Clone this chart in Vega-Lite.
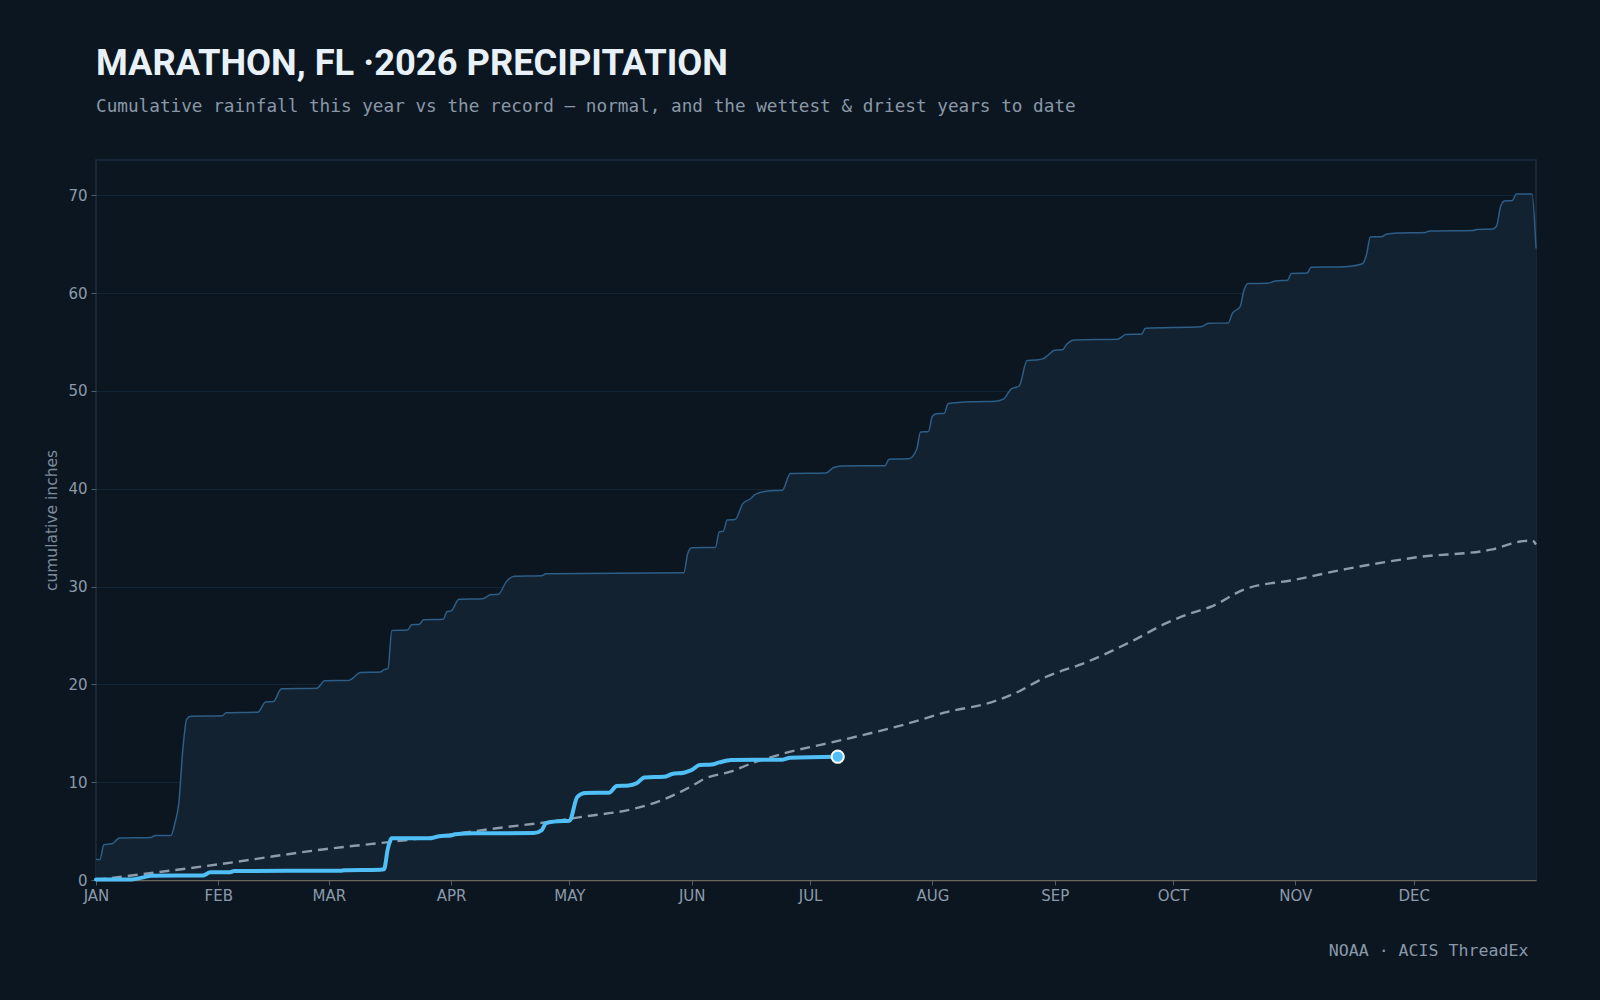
{
  "$schema": "https://vega.github.io/schema/vega-lite/v6.json",
  "width": 1440,
  "height": 720,
  "autosize": {"type": "none"},
  "padding": {"left": 96, "top": 160, "right": 64, "bottom": 120},
  "background": "#0c1620",
  "title": {
    "text": "MARATHON, FL ·2026 PRECIPITATION",
    "subtitle": "Cumulative rainfall this year vs the record — normal, and the wettest & driest years to date",
    "anchor": "start",
    "frame": "group",
    "font": "Roboto",
    "fontSize": 36.3,
    "fontWeight": 700,
    "color": "#e8f1f8",
    "subtitleFont": "DejaVu Sans Mono",
    "subtitleFontSize": 17.7,
    "subtitleColor": "#8a98a8",
    "subtitlePadding": 16,
    "offset": 44
  },
  "config": {
    "view": {"stroke": "#1b2e40", "strokeWidth": 1.5, "fill": "#0c1620"},
    "axis": {
      "labelFont": "DejaVu Sans",
      "labelFontSize": 15,
      "labelColor": "#8b9aab",
      "tickColor": "#4e5e6e",
      "tickSize": 5,
      "titleFont": "DejaVu Sans",
      "titleFontWeight": "normal",
      "titleFontSize": 15.5,
      "titleColor": "#7d8c9c"
    }
  },
  "layer": [
    {
      "data": {
        "values": [
          {"date": "2026-01-01", "inches": 2.1}, {"date": "2026-01-02", "inches": 2.1}, {"date": "2026-01-03", "inches": 3.6},
          {"date": "2026-01-05", "inches": 3.7}, {"date": "2026-01-07", "inches": 4.3}, {"date": "2026-01-15", "inches": 4.35},
          {"date": "2026-01-16", "inches": 4.55}, {"date": "2026-01-20", "inches": 4.55}, {"date": "2026-01-21", "inches": 5.8},
          {"date": "2026-01-22", "inches": 7.9}, {"date": "2026-01-23", "inches": 13.3}, {"date": "2026-01-24", "inches": 16.45},
          {"date": "2026-01-25", "inches": 16.75}, {"date": "2026-02-02", "inches": 16.8}, {"date": "2026-02-03", "inches": 17.1},
          {"date": "2026-02-11", "inches": 17.15}, {"date": "2026-02-13", "inches": 18.2}, {"date": "2026-02-15", "inches": 18.25},
          {"date": "2026-02-17", "inches": 19.55}, {"date": "2026-02-26", "inches": 19.6}, {"date": "2026-02-28", "inches": 20.37},
          {"date": "2026-03-06", "inches": 20.4}, {"date": "2026-03-07", "inches": 20.6}, {"date": "2026-03-09", "inches": 21.2},
          {"date": "2026-03-14", "inches": 21.25}, {"date": "2026-03-15", "inches": 21.5}, {"date": "2026-03-16", "inches": 21.6},
          {"date": "2026-03-17", "inches": 25.5}, {"date": "2026-03-21", "inches": 25.55}, {"date": "2026-03-22", "inches": 26.1},
          {"date": "2026-03-24", "inches": 26.15}, {"date": "2026-03-25", "inches": 26.6}, {"date": "2026-03-30", "inches": 26.65},
          {"date": "2026-03-31", "inches": 27.45}, {"date": "2026-04-01", "inches": 27.5}, {"date": "2026-04-03", "inches": 28.7},
          {"date": "2026-04-09", "inches": 28.75}, {"date": "2026-04-11", "inches": 29.15}, {"date": "2026-04-13", "inches": 29.2},
          {"date": "2026-04-15", "inches": 30.5}, {"date": "2026-04-17", "inches": 31.06}, {"date": "2026-04-24", "inches": 31.1},
          {"date": "2026-04-25", "inches": 31.3}, {"date": "2026-05-30", "inches": 31.4}, {"date": "2026-05-31", "inches": 33.4},
          {"date": "2026-06-01", "inches": 33.96}, {"date": "2026-06-07", "inches": 34.0}, {"date": "2026-06-08", "inches": 35.6},
          {"date": "2026-06-09", "inches": 35.65}, {"date": "2026-06-10", "inches": 36.8}, {"date": "2026-06-12", "inches": 36.85},
          {"date": "2026-06-14", "inches": 38.5}, {"date": "2026-06-16", "inches": 39.0}, {"date": "2026-06-17", "inches": 39.4},
          {"date": "2026-06-21", "inches": 39.8}, {"date": "2026-06-24", "inches": 39.85}, {"date": "2026-06-26", "inches": 41.55},
          {"date": "2026-07-05", "inches": 41.6}, {"date": "2026-07-07", "inches": 42.17}, {"date": "2026-07-09", "inches": 42.33},
          {"date": "2026-07-20", "inches": 42.35}, {"date": "2026-07-21", "inches": 43.0}, {"date": "2026-07-26", "inches": 43.05},
          {"date": "2026-07-28", "inches": 44.0}, {"date": "2026-07-29", "inches": 45.8}, {"date": "2026-07-31", "inches": 45.85},
          {"date": "2026-08-01", "inches": 47.4}, {"date": "2026-08-02", "inches": 47.65}, {"date": "2026-08-04", "inches": 47.7},
          {"date": "2026-08-05", "inches": 48.7}, {"date": "2026-08-12", "inches": 48.9}, {"date": "2026-08-17", "inches": 48.95},
          {"date": "2026-08-19", "inches": 49.15}, {"date": "2026-08-21", "inches": 50.2}, {"date": "2026-08-23", "inches": 50.5},
          {"date": "2026-08-25", "inches": 53.1}, {"date": "2026-08-27", "inches": 53.15}, {"date": "2026-08-29", "inches": 53.27},
          {"date": "2026-08-30", "inches": 53.55}, {"date": "2026-09-01", "inches": 54.16}, {"date": "2026-09-03", "inches": 54.2},
          {"date": "2026-09-04", "inches": 54.74}, {"date": "2026-09-06", "inches": 55.2}, {"date": "2026-09-17", "inches": 55.28},
          {"date": "2026-09-19", "inches": 55.76}, {"date": "2026-09-23", "inches": 55.8}, {"date": "2026-09-24", "inches": 56.4},
          {"date": "2026-10-08", "inches": 56.55}, {"date": "2026-10-10", "inches": 56.9}, {"date": "2026-10-15", "inches": 56.95},
          {"date": "2026-10-16", "inches": 57.9}, {"date": "2026-10-18", "inches": 58.6}, {"date": "2026-10-19", "inches": 60.3},
          {"date": "2026-10-20", "inches": 60.97}, {"date": "2026-10-25", "inches": 61.0}, {"date": "2026-10-27", "inches": 61.24},
          {"date": "2026-10-30", "inches": 61.3}, {"date": "2026-10-31", "inches": 62.0}, {"date": "2026-11-04", "inches": 62.05},
          {"date": "2026-11-05", "inches": 62.64}, {"date": "2026-11-12", "inches": 62.66}, {"date": "2026-11-15", "inches": 62.74},
          {"date": "2026-11-18", "inches": 63.0}, {"date": "2026-11-19", "inches": 63.87}, {"date": "2026-11-20", "inches": 65.73},
          {"date": "2026-11-23", "inches": 65.78}, {"date": "2026-11-24", "inches": 66.0}, {"date": "2026-11-27", "inches": 66.15},
          {"date": "2026-12-04", "inches": 66.2}, {"date": "2026-12-05", "inches": 66.35}, {"date": "2026-12-16", "inches": 66.4},
          {"date": "2026-12-17", "inches": 66.5}, {"date": "2026-12-21", "inches": 66.55}, {"date": "2026-12-22", "inches": 66.85},
          {"date": "2026-12-23", "inches": 68.8}, {"date": "2026-12-24", "inches": 69.4}, {"date": "2026-12-26", "inches": 69.45},
          {"date": "2026-12-27", "inches": 70.13}, {"date": "2026-12-31", "inches": 70.13}, {"date": "2027-01-01", "inches": 64.55}
        ],
        "format": {"parse": {"date": "date:'%Y-%m-%d'"}}
      },
      "mark": {"type": "area", "interpolate": "monotone", "fill": "#122231", "fillOpacity": 1, "line": {"color": "#2d5e86", "strokeWidth": 1.5}},
      "encoding": {
        "x": {
          "field": "date", "type": "temporal",
          "scale": {"domain": [{"year": 2026, "month": 1, "date": 1}, {"year": 2027, "month": 1, "date": 1}], "nice": false},
          "axis": {
            "values": [
              {"year": 2026, "month": 1, "date": 1}, {"year": 2026, "month": 2, "date": 1}, {"year": 2026, "month": 3, "date": 1},
              {"year": 2026, "month": 4, "date": 1}, {"year": 2026, "month": 5, "date": 1}, {"year": 2026, "month": 6, "date": 1},
              {"year": 2026, "month": 7, "date": 1}, {"year": 2026, "month": 8, "date": 1}, {"year": 2026, "month": 9, "date": 1},
              {"year": 2026, "month": 10, "date": 1}, {"year": 2026, "month": 11, "date": 1}, {"year": 2026, "month": 12, "date": 1}
            ],
            "labelExpr": "upper(timeFormat(datum.value, '%b'))",
            "grid": false,
            "domainColor": "#6b6a58",
            "domainWidth": 1.5,
            "labelPadding": 3,
            "labelFlush": false,
            "labelOverlap": false,
            "title": "NOAA · ACIS ThreadEx",
            "titleFont": "DejaVu Sans Mono",
            "titleFontSize": 16.6,
            "titleColor": "#8a98a8",
            "titleX": 1432,
            "titleAlign": "right",
            "titlePadding": 39
          }
        },
        "y": {
          "field": "inches", "type": "quantitative",
          "scale": {"domain": [0, 73.6], "nice": false},
          "axis": {
            "values": [0, 10, 20, 30, 40, 50, 60, 70],
            "grid": true,
            "gridColor": "#142636",
            "gridWidth": 1,
            "domain": false,
            "labelPadding": 4,
            "title": "cumulative inches",
            "titlePadding": 8
          }
        }
      }
    },
    {
      "data": {
        "values": [
          {"date": "2026-01-01", "inches": 0.0}, {"date": "2026-02-01", "inches": 1.6}, {"date": "2026-02-28", "inches": 3.15},
          {"date": "2026-03-19", "inches": 4.0}, {"date": "2026-04-01", "inches": 4.65}, {"date": "2026-04-08", "inches": 5.05},
          {"date": "2026-04-23", "inches": 5.8}, {"date": "2026-04-26", "inches": 5.95}, {"date": "2026-05-05", "inches": 6.5},
          {"date": "2026-05-17", "inches": 7.25}, {"date": "2026-05-24", "inches": 8.1}, {"date": "2026-06-01", "inches": 9.6},
          {"date": "2026-06-04", "inches": 10.3}, {"date": "2026-06-11", "inches": 11.1}, {"date": "2026-06-16", "inches": 11.9},
          {"date": "2026-06-24", "inches": 12.9}, {"date": "2026-07-09", "inches": 14.3}, {"date": "2026-07-25", "inches": 15.9},
          {"date": "2026-08-04", "inches": 17.1}, {"date": "2026-08-17", "inches": 18.3}, {"date": "2026-08-22", "inches": 19.1},
          {"date": "2026-08-30", "inches": 20.8}, {"date": "2026-09-08", "inches": 22.1}, {"date": "2026-09-21", "inches": 24.5},
          {"date": "2026-09-29", "inches": 26.2}, {"date": "2026-10-05", "inches": 27.2}, {"date": "2026-10-11", "inches": 28.0},
          {"date": "2026-10-19", "inches": 29.7}, {"date": "2026-11-01", "inches": 30.7}, {"date": "2026-11-14", "inches": 31.8},
          {"date": "2026-12-02", "inches": 33.0}, {"date": "2026-12-21", "inches": 33.8}, {"date": "2026-12-28", "inches": 34.6},
          {"date": "2026-12-31", "inches": 34.7}, {"date": "2027-01-01", "inches": 34.3}
        ],
        "format": {"parse": {"date": "date:'%Y-%m-%d'"}}
      },
      "mark": {"type": "line", "interpolate": "monotone", "color": "#8d9baa", "strokeWidth": 2.4, "strokeDash": [10, 6]},
      "encoding": {
        "x": {"field": "date", "type": "temporal"},
        "y": {"field": "inches", "type": "quantitative"}
      }
    },
    {
      "data": {
        "values": [
          {"date": "2026-01-01", "inches": 0.05}, {"date": "2026-01-10", "inches": 0.05}, {"date": "2026-01-13", "inches": 0.27},
          {"date": "2026-01-15", "inches": 0.44}, {"date": "2026-01-28", "inches": 0.46}, {"date": "2026-01-30", "inches": 0.78},
          {"date": "2026-02-04", "inches": 0.8}, {"date": "2026-02-05", "inches": 0.92}, {"date": "2026-03-04", "inches": 0.95},
          {"date": "2026-03-05", "inches": 0.99}, {"date": "2026-03-14", "inches": 1.05}, {"date": "2026-03-15", "inches": 1.1},
          {"date": "2026-03-16", "inches": 3.24}, {"date": "2026-03-17", "inches": 4.26}, {"date": "2026-03-27", "inches": 4.28},
          {"date": "2026-03-29", "inches": 4.48}, {"date": "2026-04-01", "inches": 4.55}, {"date": "2026-04-02", "inches": 4.67},
          {"date": "2026-04-07", "inches": 4.77}, {"date": "2026-04-22", "inches": 4.8}, {"date": "2026-04-24", "inches": 5.1},
          {"date": "2026-04-25", "inches": 5.8}, {"date": "2026-04-28", "inches": 6.0}, {"date": "2026-05-01", "inches": 6.05},
          {"date": "2026-05-03", "inches": 8.5}, {"date": "2026-05-05", "inches": 8.9}, {"date": "2026-05-11", "inches": 8.92},
          {"date": "2026-05-13", "inches": 9.6}, {"date": "2026-05-16", "inches": 9.65}, {"date": "2026-05-18", "inches": 9.88},
          {"date": "2026-05-20", "inches": 10.49}, {"date": "2026-05-25", "inches": 10.55}, {"date": "2026-05-27", "inches": 10.83},
          {"date": "2026-05-30", "inches": 10.97}, {"date": "2026-06-01", "inches": 11.24}, {"date": "2026-06-03", "inches": 11.75},
          {"date": "2026-06-06", "inches": 11.8}, {"date": "2026-06-08", "inches": 12.02}, {"date": "2026-06-11", "inches": 12.26},
          {"date": "2026-06-24", "inches": 12.3}, {"date": "2026-06-26", "inches": 12.5}, {"date": "2026-07-08", "inches": 12.6}
        ],
        "format": {"parse": {"date": "date:'%Y-%m-%d'"}}
      },
      "layer": [
        {
          "mark": {"type": "line", "interpolate": "monotone", "color": "#4fbff6", "strokeWidth": 4, "strokeCap": "round"},
          "encoding": {
            "x": {"field": "date", "type": "temporal"},
            "y": {"field": "inches", "type": "quantitative"}
          }
        },
        {
          "transform": [{"filter": "datum.inches >= 12.6"}],
          "mark": {"type": "point", "filled": true, "size": 150, "color": "#4fbff6", "stroke": "#ffffff", "strokeWidth": 2, "opacity": 1},
          "encoding": {
            "x": {"field": "date", "type": "temporal"},
            "y": {"field": "inches", "type": "quantitative"}
          }
        }
      ]
    }
  ]
}
